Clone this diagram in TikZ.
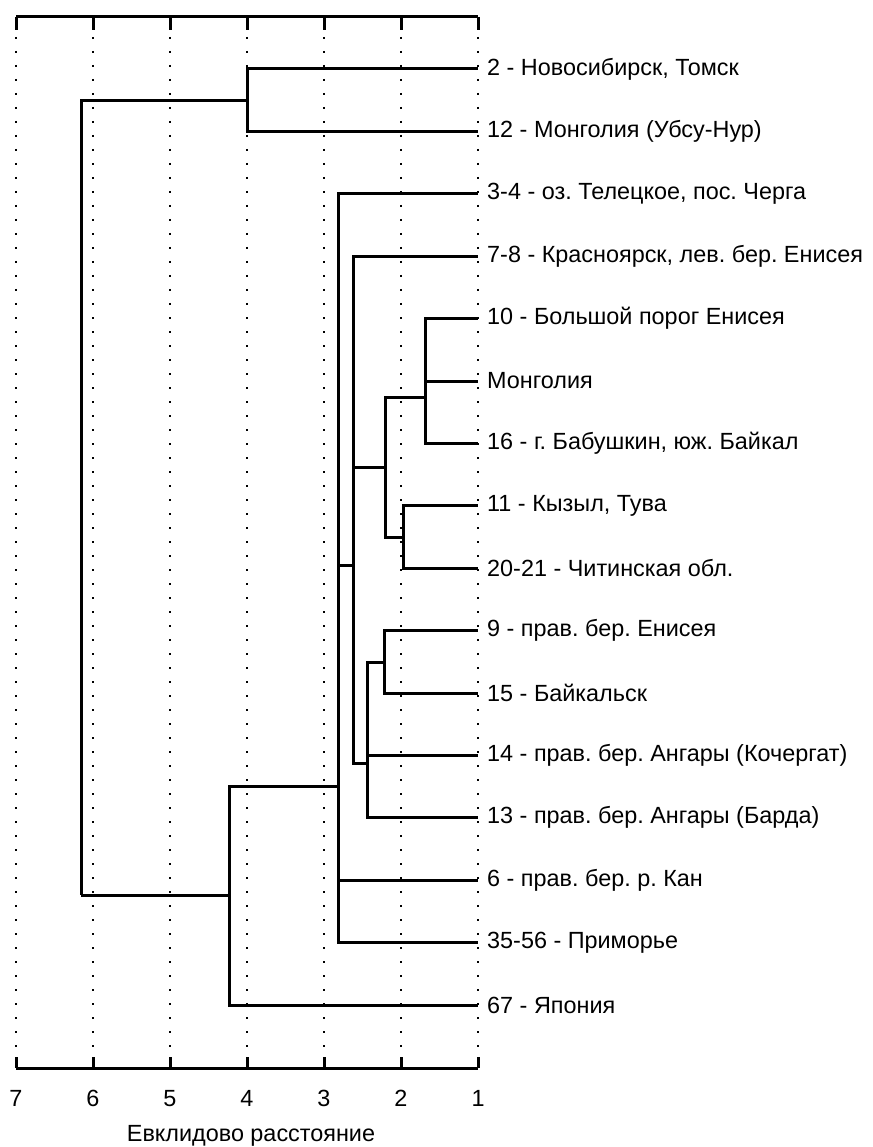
\documentclass[tikz,border=0pt]{standalone}
\usepackage{fontspec}
\setmainfont{Liberation Sans}
\frenchspacing
\begin{document}
\begin{tikzpicture}[x=1pt,y=-1pt,
  link/.style={line width=3pt, line join=miter},
  axisline/.style={line width=3pt, line join=miter},
  grid/.style={line width=1.7pt, dash pattern=on 1.7pt off 12.3pt},
  leaflabel/.style={anchor=west, inner xsep=9pt, inner ysep=0pt, font=\fontsize{23.4}{26}\selectfont},
  ticklabel/.style={anchor=base, inner sep=0pt, font=\fontsize{23.4}{26}\selectfont},
  titlelabel/.style={anchor=base, inner sep=0pt, font=\fontsize{23.4}{26}\selectfont}]
\useasboundingbox (0,0) rectangle (872,1147);
\fill[white] (0,0) rectangle (872,1147);
% grid lines and axes
\foreach \d in {1,...,7} {
  \pgfmathsetmacro{\xx}{478-(\d-1)*77}
  \draw[grid] (\xx,37) -- (\xx,1052);
  \draw[axisline] (\xx,17) -- (\xx,30);
  \draw[axisline] (\xx,1057) -- (\xx,1068);
  \node[ticklabel] (t\d) at (\xx,1106) {\d};
}
\draw[axisline] (16,17) -- (478,17);
\draw[axisline] (16,1068) -- (478,1068);
\node[titlelabel] (title) at (251,1141) {Евклидово расстояние};
% leaves
\foreach \i/\lab in {0/{2 - Новосибирск, Томск},
  1/{12 - Монголия (Убсу-Нур)},
  2/{3-4 - оз. Телецкое, пос. Черга},
  3/{7-8 - Красноярск, лев. бер. Енисея},
  4/{10 - Большой порог Енисея},
  5/{Монголия},
  6/{16 - г. Бабушкин, юж. Байкал},
  7/{11 - Кызыл, Тува},
  8/{20-21 - Читинская обл.},
  9/{9 - прав. бер. Енисея},
  10/{15 - Байкальск},
  11/{14 - прав. бер. Ангары (Кочергат)},
  12/{13 - прав. бер. Ангары (Барда)},
  13/{6 - прав. бер. р. Кан},
  14/{35-56 - Приморье},
  15/{67 - Япония}} {
  \coordinate (e\i) at (478,{69+62.4*\i});
  \node[leaflabel] (L\i) at (e\i) {\lab};
}
% internal nodes
\coordinate (A) at (247,100.2);
\coordinate (G) at (425,397);
\coordinate (H) at (403,537);
\coordinate (E) at (385,467);
\coordinate (I) at (384,662);
\coordinate (F) at (367,763);
\coordinate (D) at (353,565);
\coordinate (C) at (338,786);
\coordinate (B) at (229,895);
\coordinate (R) at (81,895);
% connectors
\draw[link] (A) |- (e0); \draw[link] (A) |- (e1);
\draw[link] (G) |- (e4); \draw[link] (G) |- (e5); \draw[link] (G) |- (e6);
\draw[link] (H) |- (e7); \draw[link] (H) |- (e8);
\draw[link] (E) |- (G); \draw[link] (E) |- (H);
\draw[link] (I) |- (e9); \draw[link] (I) |- (e10);
\draw[link] (F) |- (I); \draw[link] (F) |- (e11); \draw[link] (F) |- (e12);
\draw[link] (D) |- (e3); \draw[link] (D) |- (E); \draw[link] (D) |- (F);
\draw[link] (C) |- (e2); \draw[link] (C) |- (D); \draw[link] (C) |- (e13); \draw[link] (C) |- (e14);
\draw[link] (B) |- (C); \draw[link] (B) |- (e15);
\draw[link] (R) |- (A); \draw[link] (R) -- (B);
\end{tikzpicture}
\end{document}
